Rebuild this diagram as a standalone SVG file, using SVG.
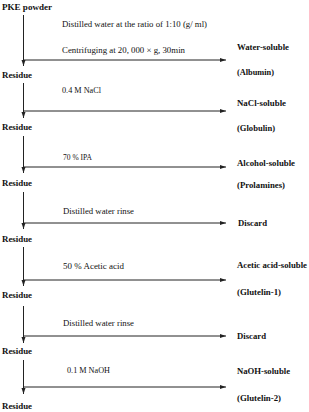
<svg xmlns="http://www.w3.org/2000/svg" width="309" height="412" viewBox="0 0 309 412">
<defs>
<marker id="ah" viewBox="0 0 6 6" refX="6" refY="3" markerWidth="6" markerHeight="6" markerUnits="userSpaceOnUse" orient="auto">
<path d="M0,1 L6,3 L0,5 Z" fill="#222"/>
</marker>
<style>
.t{font-family:"Liberation Serif","Times New Roman",serif;font-size:9px;fill:#111}
.b{font-weight:bold;font-size:9px}
.ln{stroke:#222;stroke-width:1;fill:none}
</style>
</defs>
<rect width="309" height="412" fill="#fff"/>
<g id="connectors">
<path class="ln" d="M23.5,15 V66" marker-end="url(#ah)"/>
<path class="ln" d="M23.5,60 H226" marker-end="url(#ah)"/>
<path class="ln" d="M23.5,83 V118" marker-end="url(#ah)"/>
<path class="ln" d="M23.5,111 H226" marker-end="url(#ah)"/>
<path class="ln" d="M23.5,136 V173" marker-end="url(#ah)"/>
<path class="ln" d="M23.5,167 H226" marker-end="url(#ah)"/>
<path class="ln" d="M23.5,192 V229" marker-end="url(#ah)"/>
<path class="ln" d="M23.5,223 H226" marker-end="url(#ah)"/>
<path class="ln" d="M23.5,247 V286" marker-end="url(#ah)"/>
<path class="ln" d="M23.5,280 H226" marker-end="url(#ah)"/>
<path class="ln" d="M23.5,306 V343" marker-end="url(#ah)"/>
<path class="ln" d="M23.5,336 H226" marker-end="url(#ah)"/>
<path class="ln" d="M23.5,360 V394" marker-end="url(#ah)"/>
<path class="ln" d="M23.5,387 H226" marker-end="url(#ah)"/>
</g>
<g id="start"><text class="t b" x="2" y="10" textLength="50" lengthAdjust="spacingAndGlyphs">PKE powder</text></g>
<g id="step1">
<text class="t" x="62" y="27" textLength="145" lengthAdjust="spacingAndGlyphs">Distilled water at the ratio of 1:10 (g/ ml)</text>
<text class="t" x="62" y="53" textLength="123" lengthAdjust="spacingAndGlyphs">Centrifuging at 20, 000 × g, 30min</text>
</g>
<g id="frac1"><text class="t b" x="237" y="50" textLength="52" lengthAdjust="spacingAndGlyphs">Water-soluble</text><text class="t b" x="237" y="75" textLength="37" lengthAdjust="spacingAndGlyphs">(Albumin)</text></g>
<g id="residue1"><text class="t b" x="2" y="78" textLength="30" lengthAdjust="spacingAndGlyphs">Residue</text></g>
<g id="step2"><text class="t" x="62" y="93" textLength="39" lengthAdjust="spacingAndGlyphs">0.4 M NaCl</text></g>
<g id="frac2"><text class="t b" x="237" y="106" textLength="49" lengthAdjust="spacingAndGlyphs">NaCl-soluble</text><text class="t b" x="237" y="131" textLength="38" lengthAdjust="spacingAndGlyphs">(Globulin)</text></g>
<g id="residue2"><text class="t b" x="2" y="130" textLength="30" lengthAdjust="spacingAndGlyphs">Residue</text></g>
<g id="step3"><text class="t" x="63" y="160" textLength="29" lengthAdjust="spacingAndGlyphs">70 % IPA</text></g>
<g id="frac3"><text class="t b" x="237" y="166" textLength="58" lengthAdjust="spacingAndGlyphs">Alcohol-soluble</text><text class="t b" x="237" y="188" textLength="48" lengthAdjust="spacingAndGlyphs">(Prolamines)</text></g>
<g id="residue3"><text class="t b" x="2" y="186" textLength="30" lengthAdjust="spacingAndGlyphs">Residue</text></g>
<g id="step4"><text class="t" x="63" y="214" textLength="71" lengthAdjust="spacingAndGlyphs">Distilled water rinse</text></g>
<g id="frac4"><text class="t b" x="238" y="226" textLength="29" lengthAdjust="spacingAndGlyphs">Discard</text></g>
<g id="residue4"><text class="t b" x="2" y="242" textLength="30" lengthAdjust="spacingAndGlyphs">Residue</text></g>
<g id="step5"><text class="t" x="63" y="269" textLength="61" lengthAdjust="spacingAndGlyphs">50 % Acetic acid</text></g>
<g id="frac5"><text class="t b" x="237" y="268" textLength="70" lengthAdjust="spacingAndGlyphs">Acetic acid-soluble</text><text class="t b" x="237" y="295" textLength="44" lengthAdjust="spacingAndGlyphs">(Glutelin-1)</text></g>
<g id="residue5"><text class="t b" x="2" y="298" textLength="30" lengthAdjust="spacingAndGlyphs">Residue</text></g>
<g id="step6"><text class="t" x="63" y="326" textLength="71" lengthAdjust="spacingAndGlyphs">Distilled water rinse</text></g>
<g id="frac6"><text class="t b" x="237" y="339" textLength="29" lengthAdjust="spacingAndGlyphs">Discard</text></g>
<g id="residue6"><text class="t b" x="2" y="354" textLength="30" lengthAdjust="spacingAndGlyphs">Residue</text></g>
<g id="step7"><text class="t" x="67" y="373" textLength="43" lengthAdjust="spacingAndGlyphs">0.1 M NaOH</text></g>
<g id="frac7"><text class="t b" x="237" y="374" textLength="53" lengthAdjust="spacingAndGlyphs">NaOH-soluble</text><text class="t b" x="237" y="401" textLength="44" lengthAdjust="spacingAndGlyphs">(Glutelin-2)</text></g>
<g id="residue7"><text class="t b" x="2" y="409" textLength="30" lengthAdjust="spacingAndGlyphs">Residue</text></g>
</svg>
